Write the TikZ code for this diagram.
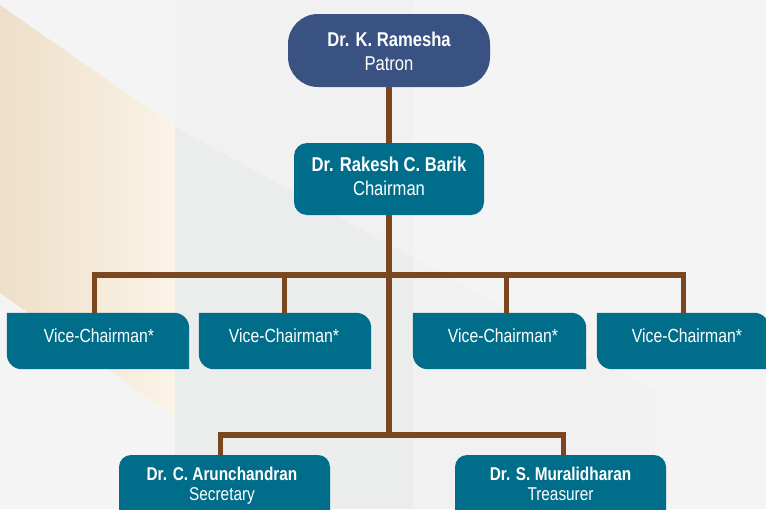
\documentclass[tikz,border=0pt]{standalone}
\usepackage{fontspec}
\setmainfont{Liberation Sans}
\newfontfamily\cond[FakeStretch=0.83]{Liberation Sans}
\pgfdeclarelayer{bgart}
\pgfdeclarelayer{boxes}
\pgfsetlayers{bgart,boxes,main}
\definecolor{patronblue}{HTML}{395282}
\definecolor{tealbox}{HTML}{006E8A}
\definecolor{brownline}{HTML}{7A4720}
\definecolor{bgbase}{HTML}{F4F4F4}
\definecolor{panelup}{HTML}{F1F1F1}
\definecolor{panellow}{HTML}{EBECEC}
\definecolor{panelmid}{HTML}{F1F1F1}
\definecolor{beigeL}{HTML}{EEDFC8}
\definecolor{beigeR}{HTML}{FAF3E7}
\tikzset{
  patronbox/.style={fill=patronblue, rounded corners=30pt, minimum width=202pt, minimum height=73pt, inner sep=0pt},
  chairbox/.style={fill=tealbox, rounded corners=13pt, minimum width=190pt, minimum height=72pt, inner sep=0pt},
  vbox/.style={minimum height=56pt, inner sep=0pt},
  offbox/.style={fill=tealbox, rounded corners=12pt, minimum width=211pt, minimum height=100pt, inner sep=0pt},
  bigname/.style={text=white, anchor=base, inner sep=0pt, font=\cond\bfseries\fontsize{20}{24}\selectfont},
  bigrole/.style={text=white, anchor=base, inner sep=0pt, font=\cond\fontsize{20}{24}\selectfont},
  vicetext/.style={text=white, anchor=base, inner sep=0pt, font=\cond\fontsize{19}{23}\selectfont},
  smallname/.style={text=white, anchor=base, inner sep=0pt, font=\cond\bfseries\fontsize{18.5}{22}\selectfont},
  smallrole/.style={text=white, anchor=base, inner sep=0pt, font=\cond\fontsize{18.5}{22}\selectfont},
  link/.style={draw=brownline, line width=5.5pt}
}
\newcommand\vicefill[1]{\fill[tealbox] (#1.north west) -- ([xshift=-15pt]#1.north east) arc[start angle=90,end angle=0,radius=15pt] -- (#1.south east) -- ([xshift=15pt]#1.south west) arc[start angle=270,end angle=180,radius=15pt] -- cycle;}
\begin{document}
\begin{tikzpicture}[x=1pt,y=-1pt]
\useasboundingbox (0,0) rectangle (766,509);
\begin{pgfonlayer}{bgart}
  \fill[bgbase] (0,0) rectangle (766,509);
  \fill[panelup] (175,0) -- (413,0) -- (413,258) -- (175,127) -- cycle;
  \fill[panellow] (175,127) -- (413,258) -- (413,509) -- (175,509) -- cycle;
  \fill[panelmid] (413,258) -- (655,391) -- (655,509) -- (413,509) -- cycle;
  \shade[left color=beigeL, right color=beigeR] (0,5) -- (175,127) -- (175,417) -- (0,293) -- cycle;
\end{pgfonlayer}

% boxes
\begin{pgfonlayer}{boxes}
  \node[patronbox] (patron) at (389,50.5) {};
  \node[chairbox] (chair) at (389,179) {};
  \node[vbox, minimum width=182pt] (v1) at (98,341) {};
  \node[vbox, minimum width=172pt] (v2) at (285,341) {};
  \node[vbox, minimum width=173pt] (v3) at (499.5,341) {};
  \node[vbox, minimum width=172pt] (v4) at (683,341) {};
  \vicefill{v1}
  \vicefill{v2}
  \vicefill{v3}
  \vicefill{v4}
  \node[offbox] (sec) at (224.5,505) {};
  \node[offbox] (tre) at (560.5,505) {};
\end{pgfonlayer}

% texts
\node[bigname] (patronN) at (389,46) {Dr. K. Ramesha};
\node[bigrole] (patronR) at (389,70) {Patron};
\node[bigname] (chairN) at (389,171) {Dr. Rakesh C. Barik};
\node[bigrole] (chairR) at (389,195) {Chairman};
\node[vicetext] (v1T) at (99,342) {Vice-Chairman*};
\node[vicetext] (v2T) at (284,342) {Vice-Chairman*};
\node[vicetext] (v3T) at (503,342) {Vice-Chairman*};
\node[vicetext] (v4T) at (687,342) {Vice-Chairman*};
\node[smallname] (secN) at (222,480) {Dr. C. Arunchandran};
\node[smallrole] (secR) at (222,500) {Secretary};
\node[smallname] (treN) at (560.5,480) {Dr. S. Muralidharan};
\node[smallrole] (treR) at (560.5,500) {Treasurer};

% connectors
\coordinate (busU) at (389,275);
\coordinate (busL) at (389,435);
\draw[link] (patron.south) -- (chair.north);
\draw[link] (chair.south) -- (busL);
\draw[link] ([xshift=-3.5pt]v1.north) |- (busU) -| ([xshift=0.5pt]v4.north);
\draw[link] ([xshift=-0.5pt]v2.north) -- ([xshift=-0.5pt]v2.north |- busU);
\draw[link] ([xshift=7pt]v3.north) -- ([xshift=7pt]v3.north |- busU);
\draw[link] ([xshift=-4pt]sec.north) |- (busL) -| ([xshift=3pt]tre.north);
\end{tikzpicture}
\end{document}
